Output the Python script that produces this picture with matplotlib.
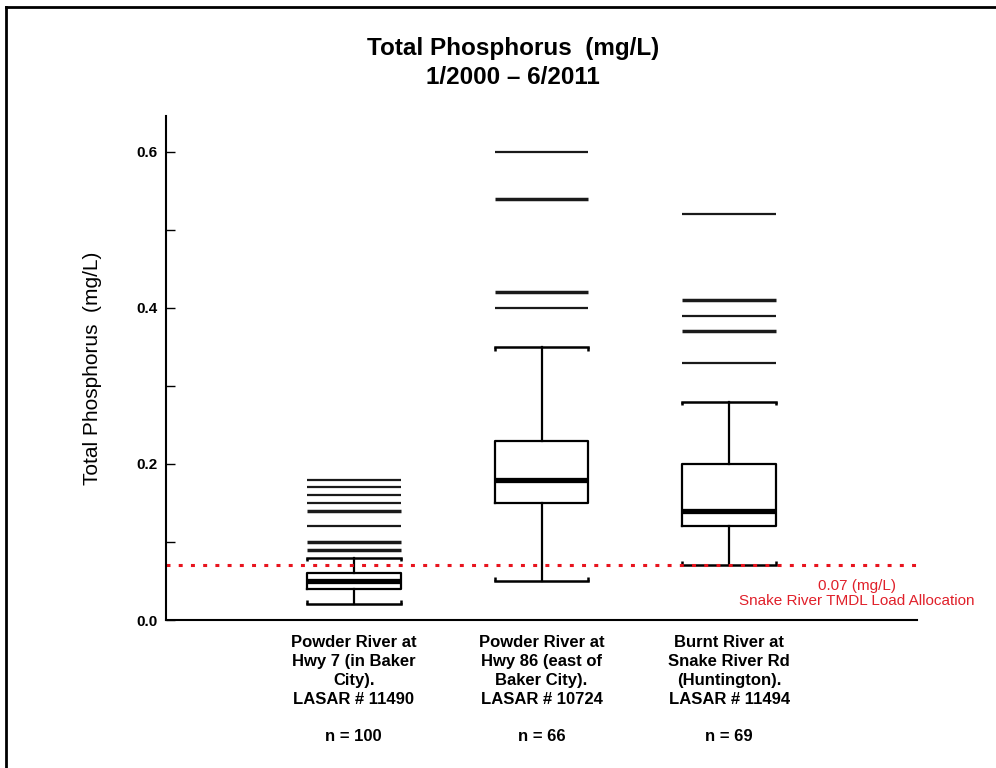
import numpy as np
import matplotlib
matplotlib.use("Agg")
import matplotlib.pyplot as plt
from matplotlib.lines import Line2D
from collections import Counter

plt.rcParams['font.family'] = ['Liberation Sans', 'DejaVu Sans']

# --- data ---
sites = ["Powder River at\nHwy 7 (in Baker\nCity).\nLASAR # 11490",
         "Powder River at\nHwy 86 (east of\nBaker City).\nLASAR # 10724",
         "Burnt River at\nSnake River Rd\n(Huntington).\nLASAR # 11494"]
n_obs = [100, 66, 69]
q1 = [0.04, 0.15, 0.12]
med = [0.05, 0.18, 0.14]
q3 = [0.06, 0.23, 0.20]
whis_lo = [0.02, 0.05, 0.07]
whis_hi = [0.08, 0.35, 0.28]
# outside values (repeats = several samples at the same value)
out1 = [0.18, 0.17, 0.16, 0.15, 0.14, 0.14, 0.12, 0.10, 0.10, 0.09, 0.09]
out2 = [0.60, 0.54, 0.54, 0.42, 0.42, 0.40]
out3 = [0.52, 0.41, 0.41, 0.39, 0.37, 0.37, 0.33]
outliers = [out1, out2, out3]
tmdl = 0.07

fig = plt.figure(figsize=(9.96, 7.68), dpi=100)
ax = fig.add_axes([166/996, 1-620/768, 751/996, 504/768])

pos = [1, 2, 3]
w = 0.5
stats = []
for i in range(3):
    stats.append(dict(med=med[i], q1=q1[i], q3=q3[i], whislo=whis_lo[i],
                      whishi=whis_hi[i], fliers=[]))

ax.bxp(stats, positions=pos, widths=w, showfliers=False,
       boxprops=dict(color='black', linewidth=1.6),
       medianprops=dict(color='black', linewidth=3.8, solid_capstyle='butt'),
       whiskerprops=dict(color='black', linewidth=1.6),
       capprops=dict(color='black', linewidth=1.8),
       capwidths=w)

# small bracket ends on the caps
tk = 0.005
for i, p in enumerate(pos):
    for s in (-1, 1):
        ax.vlines(p + s*w/2, whis_hi[i] - tk, whis_hi[i], color='black', lw=1.8)
        ax.vlines(p + s*w/2, whis_lo[i], whis_lo[i] + tk, color='black', lw=1.8)

# outside values as horizontal bars
for i, p in enumerate(pos):
    cnt = Counter(outliers[i])
    for v, c in cnt.items():
        ax.hlines(v, p - w/2, p + w/2, color='#1a1a1a', lw=1.6 + 0.9*(c-1))

# TMDL line
ax.axhline(tmdl, color='#e8141e', lw=2.2, ls=(0, (1.3, 2.7)))
ax.text(3.68, 0.034, f"{tmdl:.2f} (mg/L)\nSnake River TMDL Load Allocation",
        color='#e0202a', fontsize=11, ha='center', va='center',
        linespacing=1.15, clip_on=False)

ax.set_xlim(0, 4)
ax.set_ylim(0, 0.646)
ax.set_yticks([0.0, 0.2, 0.4, 0.6])
ax.set_yticks([0.1, 0.3, 0.5], minor=True)
ax.set_yticklabels([f"{t:.1f}" for t in [0.0, 0.2, 0.4, 0.6]],
                   fontsize=11, fontweight='bold')
ax.tick_params(axis='y', which='both', direction='in', length=6.5, width=1,
               pad=6)
ax.set_xticks(pos)
ax.set_xticklabels([f"{s}\n\nn = {n}" for s, n in zip(sites, n_obs)],
                   fontsize=12, fontweight='bold', linespacing=1.32)
ax.tick_params(axis='x', length=0, pad=11)

for sp in ['top', 'right']:
    ax.spines[sp].set_visible(False)
for sp in ['left', 'bottom']:
    ax.spines[sp].set_linewidth(1.5)

ax.set_ylabel("Total Phosphorus  (mg/L)", fontsize=15)
ax.yaxis.set_label_coords(-0.085, 0.5)

fig.text(0.515, 1-48/768, "Total Phosphorus  (mg/L)", fontsize=17.5,
         fontweight='bold', ha='center', va='center')
fig.text(0.515, 1-77/768, "1/2000 \u2013 6/2011", fontsize=17.5,
         fontweight='bold', ha='center', va='center')

# slide frame (top and left edges)
fig.add_artist(Line2D([6/996, 1], [1-7/768, 1-7/768], color='black', lw=2,
                      transform=fig.transFigure))
fig.add_artist(Line2D([6/996, 6/996], [0, 1-7/768], color='black', lw=2,
                      transform=fig.transFigure))

fig.savefig("out.png", dpi=100)
